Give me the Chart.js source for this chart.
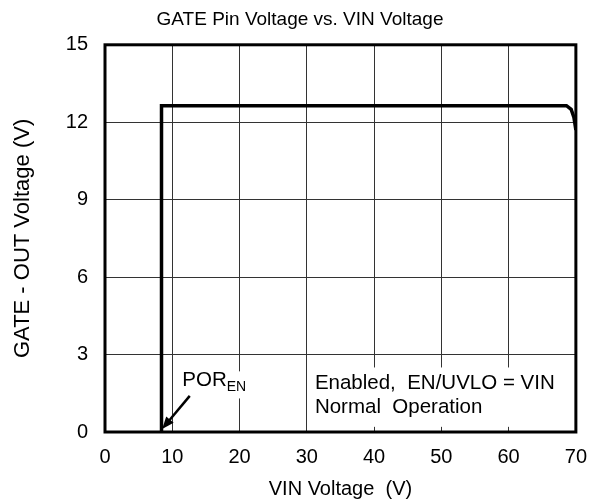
<!DOCTYPE html>
<html>
<head>
    <meta charset="UTF-8">
    <title>GATE Pin Voltage vs. VIN Voltage</title>
    <script src="https://cdn.jsdelivr.net/npm/chart.js"></script>
    <style>
        html, body { margin: 0; padding: 0; background: #fff; }
        #wrap { width: 600px; height: 504px; }
    </style>
</head>
<body>
    <div id="wrap"><canvas id="gateChart"></canvas></div>

    <script>
        // values
        const vinVolts = [8.4, 8.4, 68.6, 69.3, 69.7, 70];
        const gateVolts = [0, 12.64, 12.64, 12.5, 12.2, 11.7];
        const xTicks = [0, 10, 20, 30, 40, 50, 60, 70];
        const yTicks = [0, 3, 6, 9, 12, 15];

        const FONT = '"Liberation Sans", Arial, sans-serif';

        // white label boxes, text, arrow and the heavy frame
        const notes = {
            id: 'notes',
            beforeDatasetsDraw(chart) {
                const { ctx, chartArea: a, scales: { x, y } } = chart;
                ctx.save();
                ctx.fillStyle = '#fff';
                // box behind the operating note
                ctx.fillRect(x.getPixelForValue(30.4), y.getPixelForValue(2.5),
                    a.right - x.getPixelForValue(30.4) - 2, y.getPixelForValue(0.2) - y.getPixelForValue(2.5));
                // box behind POR label
                ctx.fillRect(x.getPixelForValue(11.3), y.getPixelForValue(2.35),
                    x.getPixelForValue(21.5) - x.getPixelForValue(11.3), y.getPixelForValue(1.3) - y.getPixelForValue(2.35));

                ctx.fillStyle = '#000';
                ctx.textBaseline = 'middle';
                ctx.textAlign = 'left';
                ctx.font = '20.5px ' + FONT;
                ctx.fillText('Enabled,  EN/UVLO = VIN', x.getPixelForValue(31.2), y.getPixelForValue(1.88));
                ctx.fillText('Normal  Operation', x.getPixelForValue(31.2), y.getPixelForValue(0.97));

                const px = x.getPixelForValue(11.5), py = y.getPixelForValue(2.0);
                ctx.fillText('POR', px, py);
                const w = ctx.measureText('POR').width;
                ctx.font = '14px ' + FONT;
                ctx.fillText('EN', px + w, py + 7);

                // arrow
                const x0 = x.getPixelForValue(12.6), y0 = y.getPixelForValue(1.4);
                const x1 = x.getPixelForValue(8.5), y1 = y.getPixelForValue(0.12);
                const ang = Math.atan2(y1 - y0, x1 - x0);
                ctx.strokeStyle = '#000';
                ctx.lineWidth = 2.5;
                ctx.beginPath();
                ctx.moveTo(x0, y0);
                ctx.lineTo(x1 - 8 * Math.cos(ang), y1 - 8 * Math.sin(ang));
                ctx.stroke();
                ctx.beginPath();
                ctx.moveTo(x1, y1);
                ctx.lineTo(x1 - 13 * Math.cos(ang - 0.38), y1 - 13 * Math.sin(ang - 0.38));
                ctx.lineTo(x1 - 13 * Math.cos(ang + 0.38), y1 - 13 * Math.sin(ang + 0.38));
                ctx.closePath();
                ctx.fill();

                // frame
                ctx.lineWidth = 3;
                ctx.strokeRect(a.left, a.top, a.right - a.left, a.bottom - a.top);
                ctx.restore();
            }
        };

        new Chart(document.getElementById('gateChart'), {
            type: 'line',
            data: {
                datasets: [{
                    data: vinVolts.map((v, i) => ({ x: v, y: gateVolts[i] })),
                    borderColor: '#000',
                    borderWidth: 3.5,
                    pointRadius: 0,
                    tension: 0,
                    fill: false
                }]
            },
            options: {
                responsive: true,
                maintainAspectRatio: false,
                animation: false,
                layout: { padding: { left: 22, right: 22, top: 0, bottom: 0 } },
                plugins: {
                    legend: { display: false },
                    tooltip: { enabled: false },
                    title: {
                        display: true,
                        text: 'GATE Pin Voltage vs. VIN Voltage',
                        color: '#000',
                        font: { family: FONT, size: 19, weight: 'normal' },
                        padding: { top: 8, bottom: 14 }
                    }
                },
                scales: {
                    x: {
                        type: 'linear',
                        min: 0,
                        max: 70,
                        afterBuildTicks: s => { s.ticks = xTicks.map(v => ({ value: v })); },
                        afterFit: s => { s.height = 72; },
                        grid: { color: '#333', lineWidth: 1, drawTicks: false },
                        border: { display: false },
                        ticks: { color: '#000', padding: 13, font: { family: FONT, size: 20 } },
                        title: {
                            display: true,
                            text: 'VIN Voltage  (V)',
                            color: '#000',
                            font: { family: FONT, size: 20 },
                            padding: { top: 0, bottom: 3 }
                        }
                    },
                    y: {
                        min: 0,
                        max: 15,
                        afterBuildTicks: s => { s.ticks = yTicks.map(v => ({ value: v })); },
                        afterFit: s => { s.width = 83; },
                        grid: { color: '#333', lineWidth: 1, drawTicks: false },
                        border: { display: false },
                        ticks: { color: '#000', padding: 17, font: { family: FONT, size: 20 } },
                        title: {
                            display: true,
                            text: 'GATE - OUT Voltage (V)',
                            color: '#000',
                            font: { family: FONT, size: 22 },
                            padding: { top: -12, bottom: 0 }
                        }
                    }
                }
            },
            plugins: [notes]
        });
    </script>
</body>
</html>
